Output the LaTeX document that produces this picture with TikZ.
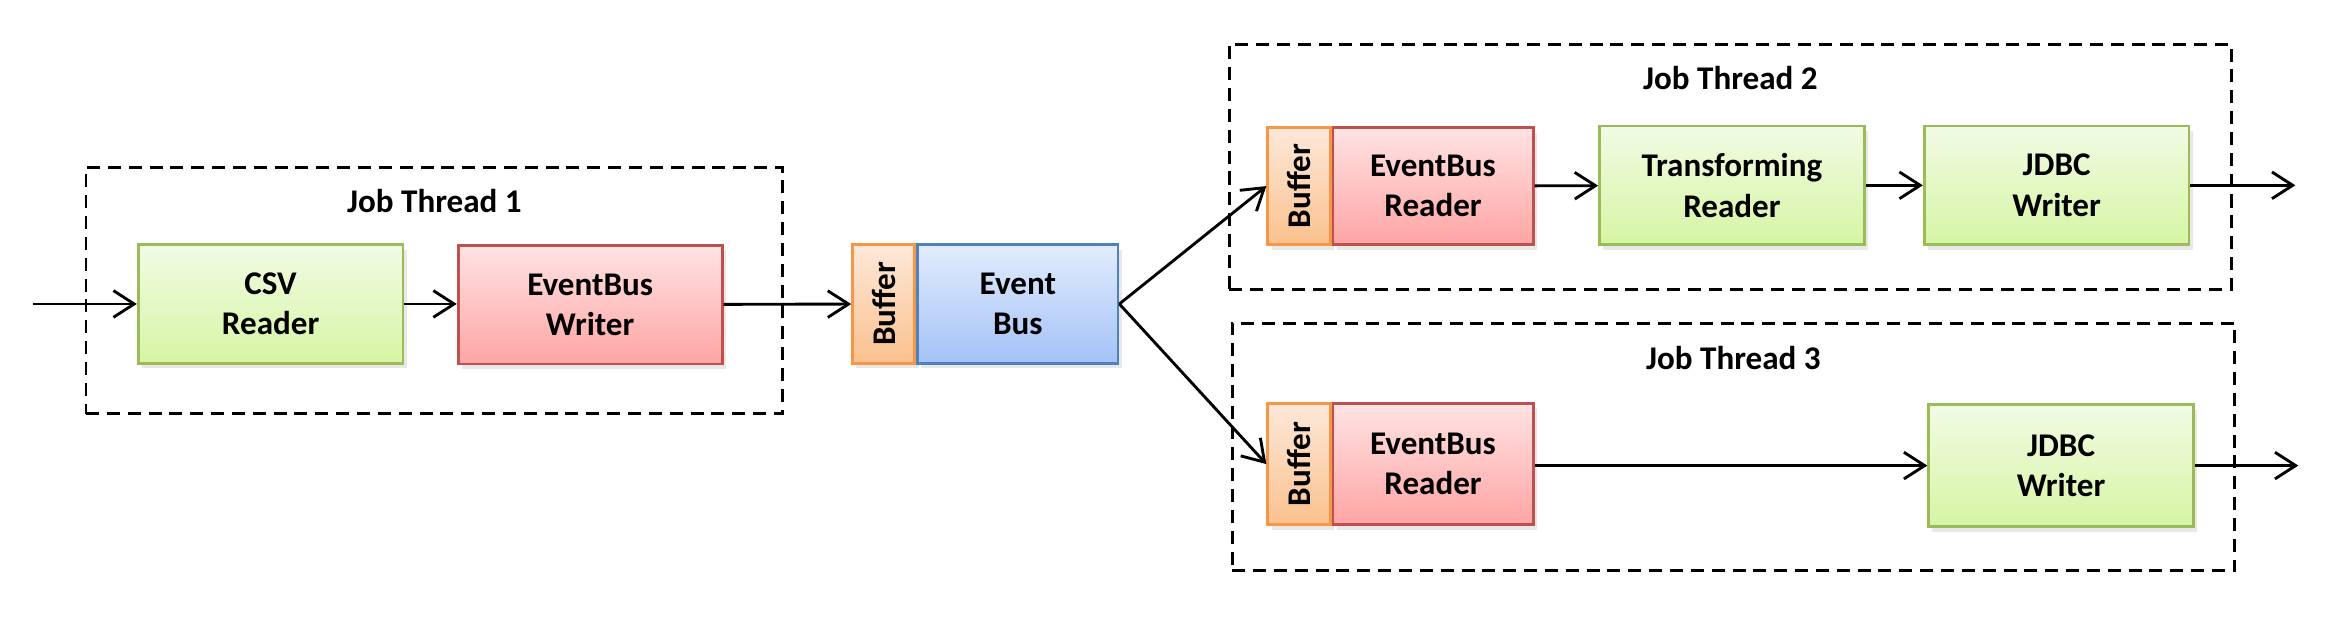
\documentclass[tikz,border=0pt]{standalone}
\usepackage{fontspec}
\setmainfont{Carlito}
\usepackage{tikz}
\usetikzlibrary{arrows.meta,positioning,shadows}

\definecolor{grnline}{HTML}{9BBB59}
\definecolor{grntop}{HTML}{F1FBE4}
\definecolor{grnbot}{HTML}{D6F5A4}
\definecolor{redline}{HTML}{C0504D}
\definecolor{redtop}{HTML}{FFE3E3}
\definecolor{redbot}{HTML}{FFA4A4}
\definecolor{orgline}{HTML}{F79646}
\definecolor{orgtop}{HTML}{FDE8D9}
\definecolor{orgbot}{HTML}{FBC18E}
\definecolor{bluline}{HTML}{4F81BD}
\definecolor{blutop}{HTML}{E2ECFD}
\definecolor{blubot}{HTML}{A3C2F7}

\tikzset{
  blk/.style={draw, line width=1.1pt, minimum height=1.6cm, inner sep=0pt,
    align=center, font=\fontsize{12.7}{15.5}\selectfont\bfseries,
    drop shadow={opacity=0.18, shadow xshift=0.5mm, shadow yshift=-0.7mm}},
  greenblk/.style={blk, draw=grnline, top color=grntop, bottom color=grnbot, minimum width=3.57cm},
  redblk/.style={blk, draw=redline, top color=redtop, bottom color=redbot},
  bufblk/.style={blk, draw=orgline, top color=orgtop, bottom color=orgbot, minimum width=0.84cm},
  busblk/.style={blk, draw=bluline, top color=blutop, bottom color=blubot, minimum width=2.70cm},
  thread/.style={draw, line width=1.1pt, dash pattern=on 5pt off 3pt},
  threadlbl/.style={font=\fontsize{12.7}{15.5}\selectfont\bfseries},
  flow/.style={line width=1.1pt, -{Straight Barb[length=2.8mm,width=3.6mm]}}
}

\begin{document}
\begin{tikzpicture}
  \useasboundingbox (0,0) rectangle (31.36,8.38);

  % job thread frames
  \node[thread, minimum width=9.40cm, minimum height=3.32cm] (thread1) at (5.86,4.46) {};
  \node[thread, minimum width=13.52cm, minimum height=3.30cm] (thread2) at (23.34,6.13) {};
  \node[thread, minimum width=13.52cm, minimum height=3.34cm] (thread3) at (23.38,2.35) {};
  \node[threadlbl] (lbl1) at ([yshift=-0.47cm]thread1.north) {Job Thread 1};
  \node[threadlbl] (lbl2) at ([yshift=-0.47cm]thread2.north) {Job Thread 2};
  \node[threadlbl] (lbl3) at ([yshift=-0.49cm]thread3.north) {Job Thread 3};

  % job thread 1
  \node[greenblk] (csv) at (3.65,4.28) {CSV\\Reader};
  \node[redblk, minimum width=3.56cm] (ebw) at (7.96,4.27) {EventBus\\Writer};

  % event bus
  \node[bufblk] (buf0) at (11.92,4.28) {\rotatebox{90}{Buffer}};
  \node[busblk, right=0pt of buf0] (bus) {Event\\Bus};

  % job thread 2
  \node[bufblk, minimum height=1.58cm] (buf2) at (17.52,5.87) {\rotatebox{90}{Buffer}};
  \node[redblk, minimum width=2.70cm, minimum height=1.58cm, right=0pt of buf2] (ebr2) {EventBus\\Reader};
  \node[greenblk] (trans) at (23.36,5.88) {Transforming\\Reader};
  \node[greenblk] (jdbc2) at (27.74,5.88) {JDBC\\Writer};

  % job thread 3
  \node[bufblk, minimum height=1.64cm] (buf3) at (17.52,2.12) {\rotatebox{90}{Buffer}};
  \node[redblk, minimum width=2.70cm, minimum height=1.64cm, right=0pt of buf3] (ebr3) {EventBus\\Reader};
  \node[greenblk, minimum height=1.64cm] (jdbc3) at (27.80,2.10) {JDBC\\Writer};

  \coordinate (src) at (0.44,4.28);
  \coordinate (out2) at (30.96,5.88);
  \coordinate (out3) at (31.00,2.10);

  % connectors
  \draw[flow] (src) -- (csv);
  \draw[flow] (csv) -- (ebw.west |- csv);
  \draw[flow] (ebw) -- (buf0);
  \draw[flow] (bus.east) -- (buf2.west);
  \draw[flow] (bus.east) -- (buf3.west);
  \draw[flow] (ebr2) -- (trans);
  \draw[flow] (trans) -- (jdbc2);
  \draw[flow] (jdbc2) -- (out2);
  \draw[flow] (ebr3.east |- jdbc3) -- (jdbc3);
  \draw[flow] (jdbc3) -- (out3);
\end{tikzpicture}
\end{document}
